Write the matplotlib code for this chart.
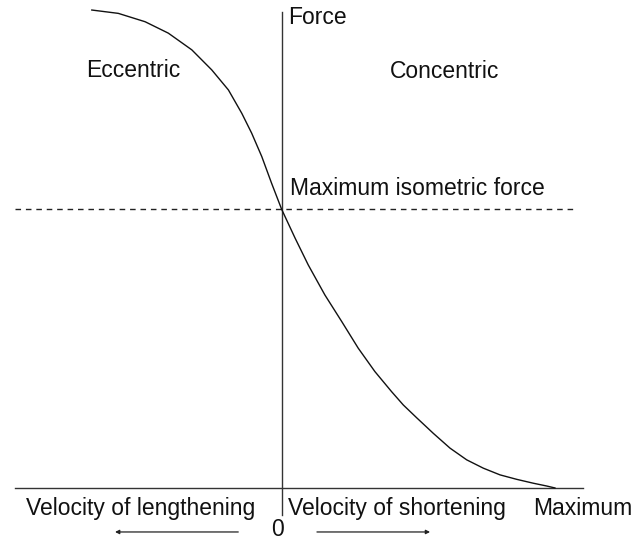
"""Force-velocity relationship of muscle, eccentric vs concentric."""

import matplotlib.pyplot as plt

# velocity: 0 at isometric, 1 at maximum shortening velocity (negative = lengthening)
VELOCITY = [-0.695, -0.598, -0.500, -0.415, -0.329, -0.256, -0.195, -0.146,
            -0.110, -0.073, -0.037, 0.0, 0.049, 0.097, 0.158, 0.220, 0.280,
            0.341, 0.402, 0.445, 0.494, 0.555, 0.616, 0.677, 0.738, 0.799,
            0.860, 0.921, 0.970, 1.0]
# force relative to maximum isometric force
FORCE = [1.716, 1.704, 1.674, 1.633, 1.573, 1.501, 1.429, 1.345,
         1.274, 1.190, 1.094, 1.0, 0.897, 0.801, 0.693, 0.597, 0.502,
         0.418, 0.346, 0.298, 0.252, 0.196, 0.143, 0.101, 0.071, 0.047,
         0.031, 0.017, 0.007, 0.0]
ISOMETRIC_FORCE = 1.0
MAX_VELOCITY = 1.0

FONT = ["Liberation Sans", "DejaVu Sans"]
SIZE = 16.5


def main() -> None:
  figure = plt.figure(figsize=(6.35, 5.42), dpi=100)
  axis = figure.add_axes([0, 0, 1, 1])
  axis.set_xlim(-1.031, 1.293)
  axis.set_ylim(-0.194, 1.752)
  axis.axis("off")

  # axes
  axis.plot([-0.976, 1.102], [0, 0], color="#333333", linewidth=1.0)
  axis.plot([0, 0], [-0.097, 1.709], color="#333333", linewidth=1.0)
  axis.plot([-0.976, 1.080], [ISOMETRIC_FORCE, ISOMETRIC_FORCE],
            color="#222222", linewidth=1.0, linestyle=(0, (4, 3.5)))

  axis.plot(VELOCITY, FORCE, color="#111111", linewidth=1.0,
            solid_joinstyle="round")

  text_style = dict(fontsize=SIZE, family=FONT, color="#111111")
  axis.text(0.023, 1.688, "Force", ha="left", va="center", **text_style)
  axis.text(-0.544, 1.50, "Eccentric", ha="center", va="center", **text_style)
  axis.text(0.597, 1.494, "Concentric", ha="center", va="center",
            **text_style)
  axis.text(0.030, 1.074, "Maximum isometric force", ha="left", va="center",
            **text_style)
  axis.text(-0.518, -0.072, "Velocity of lengthening", ha="center",
            va="center", **text_style)
  axis.text(0.42, -0.072, "Velocity of shortening", ha="center",
            va="center", **text_style)
  axis.text(MAX_VELOCITY + 0.100, -0.072, "Maximum", ha="center",
            va="center", **text_style)
  axis.text(-0.014, -0.150, "0", ha="center", va="center", **text_style)

  arrow = dict(arrowstyle="-|>", color="#222222", linewidth=0.9,
               mutation_scale=6, shrinkA=0, shrinkB=0)
  axis.annotate("", xy=(-0.610, -0.158), xytext=(-0.159, -0.158),
                arrowprops=arrow)
  axis.annotate("", xy=(0.543, -0.158), xytext=(0.129, -0.158),
                arrowprops=arrow)

  figure.savefig("out.png", dpi=100)
  plt.close(figure)


if __name__ == "__main__":
  main()
